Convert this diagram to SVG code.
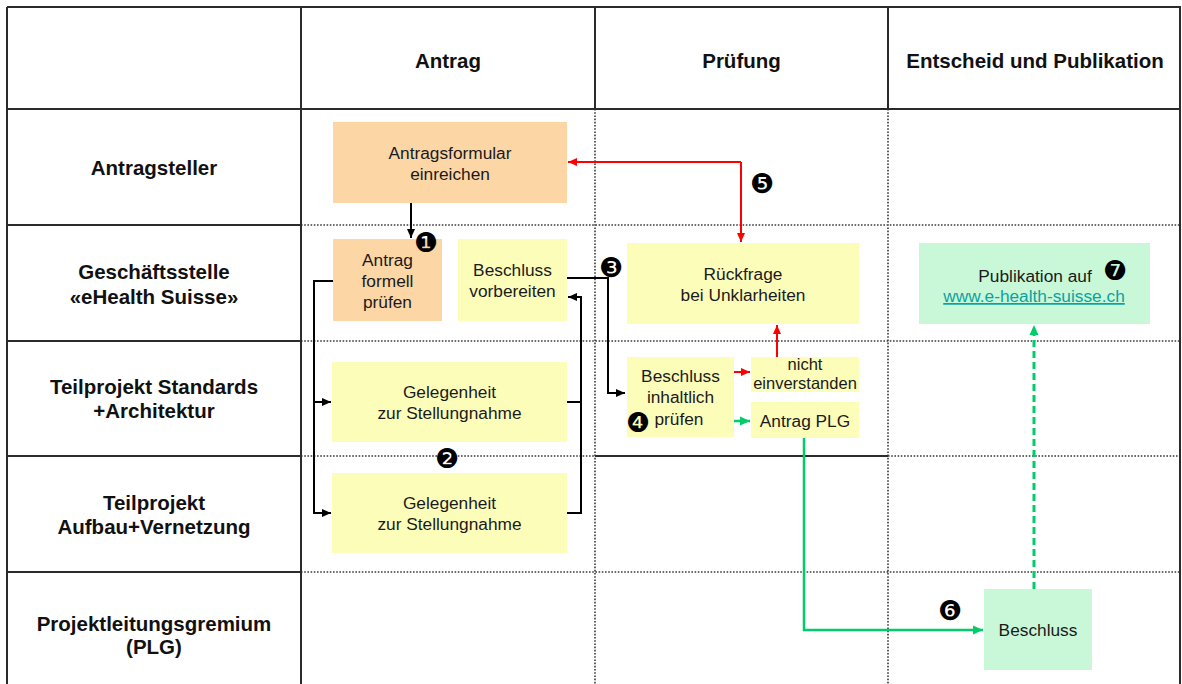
<svg xmlns="http://www.w3.org/2000/svg" width="1182" height="684" viewBox="0 0 1182 684">
<style>
.solid{stroke:#2b2b2b;stroke-width:2;fill:none}
.dot{stroke:#3a3a3a;stroke-width:1.6;stroke-dasharray:1.6 1.6;fill:none}
.hdr{font-family:"Liberation Sans",Arial,sans-serif;font-weight:bold;font-size:20.5px;fill:#111;text-anchor:middle}
.lbl{font-family:"Liberation Sans",Arial,sans-serif;font-size:17.3px;fill:#1a1a1a;text-anchor:middle}
.num{font-family:"DejaVu Sans",sans-serif;font-size:27px;fill:#000;text-anchor:middle}
.or{fill:#FDD6A6}
.ye{fill:#FDFDBA}
.gr{fill:#C9F8D8}
.blk{stroke:#000;stroke-width:2;fill:none}
.red{stroke:#FF0000;stroke-width:2;fill:none}
.grn{stroke:#00CC6A;stroke-width:2.5;fill:none}
.grnd{stroke:#00CC6A;stroke-width:3;fill:none;stroke-dasharray:7 4}
</style>
<defs>
<marker id="ab" markerWidth="10" markerHeight="10" refX="9" refY="5" orient="auto" markerUnits="userSpaceOnUse"><path d="M0,1 L9,5 L0,9 Z" fill="#000"/></marker>
<marker id="ar" markerWidth="10" markerHeight="10" refX="9" refY="5" orient="auto" markerUnits="userSpaceOnUse"><path d="M0,1 L9,5 L0,9 Z" fill="#FF0000"/></marker>
<marker id="ag" markerWidth="11" markerHeight="11" refX="10" refY="5.5" orient="auto" markerUnits="userSpaceOnUse"><path d="M0,1 L10,5.5 L0,10 Z" fill="#00CC6A"/></marker>
</defs>
<rect width="1182" height="684" fill="#fff"/>
<g id="grid">
<path class="dot" d="M301,225 H1180 M301,341 H1180 M301,456 H595 M888,456 H1180 M301,572 H1180 M595,109 V690 M888,109 V690"/>
<path class="solid" d="M595,456 H888"/>
<path class="solid" d="M7,7 H1180 V690 M7,7 V690 M7,109 H1180 M301,7 V690 M595,7 V109 M888,7 V109 M7,225 H301 M7,341 H301 M7,456 H301 M7,572 H301"/>
</g>
<g id="headers">
<text class="hdr" x="448" y="68">Antrag</text>
<text class="hdr" x="741.5" y="68">Prüfung</text>
<text class="hdr" x="1035" y="68">Entscheid und Publikation</text>
</g>
<g id="lanes">
<text class="hdr" x="154" y="175">Antragsteller</text>
<text class="hdr" x="154" y="279">Geschäftsstelle</text>
<text class="hdr" x="154" y="304">«eHealth Suisse»</text>
<text class="hdr" x="154" y="394">Teilprojekt Standards</text>
<text class="hdr" x="154" y="418">+Architektur</text>
<text class="hdr" x="154" y="510">Teilprojekt</text>
<text class="hdr" x="154" y="534">Aufbau+Vernetzung</text>
<text class="hdr" x="154" y="631">Projektleitungsgremium</text>
<text class="hdr" x="154" y="654">(PLG)</text>
</g>
<g id="connectors">
<path class="blk" d="M411,203 V238" marker-end="url(#ab)"/>
<path class="blk" d="M333,281 H314 V513 H331" marker-end="url(#ab)"/>
<path class="blk" d="M314,402 H331" marker-end="url(#ab)"/>
<path class="blk" d="M567,402 H581"/>
<path class="blk" d="M567,513 H581 V297 H568" marker-end="url(#ab)"/>
<path class="blk" d="M567,278 H608 V393 H625" marker-end="url(#ab)"/>
<path class="red" d="M734,372 H750" marker-end="url(#ar)"/>
<path class="grn" d="M734,421 H750" marker-end="url(#ag)"/>
<path class="red" d="M777,357 V325" marker-end="url(#ar)"/>
<path class="red" d="M741,162 H568" marker-end="url(#ar)"/>
<path class="red" d="M741,162 V242" marker-end="url(#ar)"/>
<path class="grn" d="M804,438 V630 H983" marker-end="url(#ag)"/>
<path class="grnd" d="M1034,589 V325" marker-end="url(#ag)"/>
</g>
<g id="n-antragsformular">
<rect class="or" x="333" y="122" width="234" height="81"/>
<text class="lbl" x="450" y="159">Antragsformular</text>
<text class="lbl" x="450" y="180">einreichen</text>
</g>
<g id="n-formell">
<rect class="or" x="333" y="239" width="109" height="82"/>
<text class="lbl" x="387.5" y="266">Antrag</text>
<text class="lbl" x="387.5" y="287">formell</text>
<text class="lbl" x="387.5" y="308">prüfen</text>
</g>
<g id="n-vorbereiten">
<rect class="ye" x="458" y="239" width="109" height="82"/>
<text class="lbl" x="512.5" y="276">Beschluss</text>
<text class="lbl" x="512.5" y="297">vorbereiten</text>
</g>
<g id="n-stellung1">
<rect class="ye" x="332" y="362" width="235" height="80"/>
<text class="lbl" x="449.5" y="398">Gelegenheit</text>
<text class="lbl" x="449.5" y="419">zur Stellungnahme</text>
</g>
<g id="n-stellung2">
<rect class="ye" x="332" y="473" width="235" height="80"/>
<text class="lbl" x="449.5" y="509">Gelegenheit</text>
<text class="lbl" x="449.5" y="530">zur Stellungnahme</text>
</g>
<g id="n-rueckfrage">
<rect class="ye" x="627" y="243" width="232" height="81"/>
<text class="lbl" x="743" y="280">Rückfrage</text>
<text class="lbl" x="743" y="301">bei Unklarheiten</text>
</g>
<g id="n-inhaltlich">
<rect class="ye" x="627" y="357" width="107" height="80"/>
<text class="lbl" x="680.5" y="382">Beschluss</text>
<text class="lbl" x="680.5" y="403">inhaltlich</text>
<text class="lbl" x="679" y="425">prüfen</text>
</g>
<g id="n-nicht">
<rect class="ye" x="751" y="357" width="108" height="35"/>
<text class="lbl" x="805" y="370" style="font-size:16.5px">nicht</text>
<text class="lbl" x="805" y="389" style="font-size:16.5px">einverstanden</text>
</g>
<g id="n-antragplg">
<rect class="ye" x="751" y="402" width="108" height="36"/>
<text class="lbl" x="805" y="427">Antrag PLG</text>
</g>
<g id="n-publikation">
<rect class="gr" x="919" y="243" width="231" height="81"/>
<text class="lbl" x="1035" y="282">Publikation auf</text>
<text class="lbl" x="1034" y="302" style="fill:#0AA3A0;text-decoration:underline">www.e-health-suisse.ch</text>
</g>
<g id="n-beschluss">
<rect class="gr" x="984" y="589" width="108" height="81"/>
<text class="lbl" x="1038" y="636">Beschluss</text>
</g>
<g id="numbers">
<text class="num" x="426" y="252">❶</text>
<text class="num" x="447" y="468">❷</text>
<text class="num" x="611" y="277">❸</text>
<text class="num" x="638" y="432">❹</text>
<text class="num" x="762" y="193">❺</text>
<text class="num" x="950" y="620">❻</text>
<text class="num" x="1115" y="280">❼</text>
</g>
</svg>
